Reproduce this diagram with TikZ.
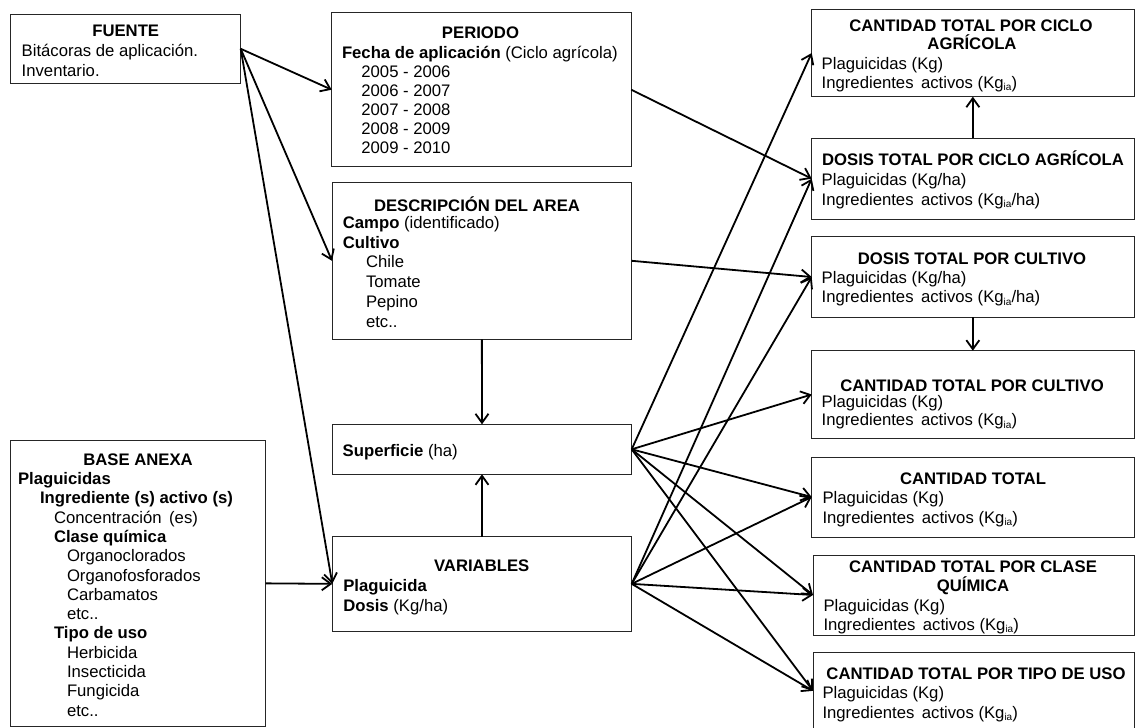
\documentclass[tikz,border=0pt]{standalone}
\usepackage{fontspec}
\setmainfont{Liberation Sans}
\usetikzlibrary{arrows.meta,calc}
\newcommand{\myfs}{\fontsize{16.7}{19.3}\selectfont}
\newcommand{\ia}{\raisebox{-2.5pt}{\fontsize{10}{10}\selectfont ia}}
\newcommand{\wgap}{\hspace{7.5pt}}
\newcommand{\mybox}[5]{\node[boxst, minimum width={#4pt-#2pt}, minimum height={#5pt-#3pt}] (#1) at ({(#2+#4)/2},{(#3+#5)/2}) {};}
\newcommand{\tlin}[4]{\node[txtst] (#1) at (#2,#3) {#4};}
\newcommand{\tctr}[4]{\node[ttlst] (#1) at (#2,#3) {#4};}
\begin{document}
\begin{tikzpicture}[x=1pt,y=-1pt,
  boxst/.style={draw=black!85, line width=1pt, inner sep=0pt, outer sep=0pt},
  txtst/.style={anchor=base west, inner sep=0pt, outer sep=0pt, font=\myfs},
  ttlst/.style={anchor=base, inner sep=0pt, outer sep=0pt, font=\myfs\bfseries},
  arr/.style={line width=1.8pt, -{Straight Barb[length=9pt,width=13pt]}}]
\useasboundingbox (0,0) rectangle (1135,728);
\fill[white] (0,0) rectangle (1135,728);

% FUENTE
\mybox{fuente}{10.7}{14.3}{240.7}{83.3}
\tctr{fuenteT}{125.7}{36.7}{FUENTE}
\tlin{fuente1}{21.7}{56.7}{Bitácoras de aplicación.}
\tlin{fuente2}{21.7}{76.5}{Inventario.}

% PERIODO
\mybox{periodo}{331.7}{12.7}{631.2}{166.7}
\tctr{periodoT}{480.5}{38}{PERIODO}
\tlin{p0}{342}{58}{\textbf{Fecha de aplicación} (Ciclo agrícola)}
\tlin{p1}{361.4}{77}{2005 - 2006}
\tlin{p2}{361.4}{96}{2006 - 2007}
\tlin{p3}{361.4}{115.2}{2007 - 2008}
\tlin{p4}{361.4}{134.3}{2008 - 2009}
\tlin{p5}{361.4}{153.4}{2009 - 2010}

% DESCRIPCION
\mybox{desc}{332}{182.3}{631.7}{339.3}
\tctr{descT}{477}{211}{DESCRIPCIÓN DEL AREA}
\tlin{d1}{342.9}{228.3}{\textbf{Campo} (identificado)}
\tlin{d2}{342.9}{248}{\textbf{Cultivo}}
\tlin{d3}{366}{267.5}{Chile}
\tlin{d4}{366}{287.3}{Tomate}
\tlin{d5}{366}{307}{Pepino}
\tlin{d6}{366}{327}{etc..}

% SUPERFICIE
\mybox{sup}{332.3}{424.3}{631.7}{474.3}
\tlin{s1}{342.7}{456.7}{\textbf{Superficie} (ha)}

% VARIABLES
\mybox{var}{332.3}{536.7}{631.7}{631}
\tctr{varT}{481.7}{571.7}{VARIABLES}
\tlin{v1}{343.3}{591}{\textbf{Plaguicida}}
\tlin{v2}{343.3}{611.5}{\textbf{Dosis} (Kg/ha)}

% BASE ANEXA
\mybox{base}{10.7}{440.7}{265.7}{726}
\tctr{baseT}{138}{465.5}{BASE ANEXA}
\tlin{b1}{18}{484.5}{\textbf{Plaguicidas}}
\tlin{b2}{40}{503.8}{\textbf{Ingrediente (s) activo (s)}}
\tlin{b3}{54}{523.1}{Concentración\wgap(es)}
\tlin{b4}{54}{542.4}{\textbf{Clase química}}
\tlin{b5}{67}{561.7}{Organoclorados}
\tlin{b6}{67}{581}{Organofosforados}
\tlin{b7}{67}{600.3}{Carbamatos}
\tlin{b8}{67}{619.6}{etc..}
\tlin{b9}{54}{638.9}{\textbf{Tipo de uso}}
\tlin{b10}{67}{658.2}{Herbicida}
\tlin{b11}{67}{677.5}{Insecticida}
\tlin{b12}{67}{696.8}{Fungicida}
\tlin{b13}{67}{716.1}{etc..}

% CANTIDAD TOTAL POR CICLO AGRICOLA
\mybox{ctpca}{811.7}{9.3}{1134}{96.7}
\tctr{ctpcaT1}{971}{31}{CANTIDAD TOTAL POR CICLO}
\tctr{ctpcaT2}{972}{49.5}{AGRÍCOLA}
\tlin{ctpca1}{821.7}{69}{Plaguicidas (Kg)}
\tlin{ctpca2}{821.7}{88}{Ingredientes\wgap activos (Kg\ia)}

% DOSIS TOTAL POR CICLO AGRICOLA
\mybox{dtpca}{811.7}{138.3}{1134}{219}
\tctr{dtpcaT}{973}{165.3}{DOSIS TOTAL POR CICLO AGRÍCOLA}
\tlin{dtpca1}{821.7}{185}{Plaguicidas (Kg/ha)}
\tlin{dtpca2}{821.7}{205}{Ingredientes\wgap activos (Kg\ia/ha)}

% DOSIS TOTAL POR CULTIVO
\mybox{dtpc}{811.7}{236.7}{1134}{317.3}
\tctr{dtpcT}{972}{264.3}{DOSIS TOTAL POR CULTIVO}
\tlin{dtpc1}{821.7}{283.3}{Plaguicidas (Kg/ha)}
\tlin{dtpc2}{821.7}{302.7}{Ingredientes\wgap activos (Kg\ia/ha)}

% CANTIDAD TOTAL POR CULTIVO
\mybox{ctpc}{811.7}{350.7}{1134}{438.3}
\tctr{ctpcT}{972}{391}{CANTIDAD TOTAL POR CULTIVO}
\tlin{ctpc1}{821.7}{407}{Plaguicidas (Kg)}
\tlin{ctpc2}{821.7}{425.5}{Ingredientes\wgap activos (Kg\ia)}

% CANTIDAD TOTAL
\mybox{ct}{811.7}{457}{1134}{537}
\tctr{ctT}{973}{484.3}{CANTIDAD TOTAL}
\tlin{ct1}{822.5}{503}{Plaguicidas (Kg)}
\tlin{ct2}{822.5}{523}{Ingredientes\wgap activos (Kg\ia)}

% CANTIDAD TOTAL POR CLASE QUIMICA
\mybox{ctpcq}{813}{555}{1134}{635}
\tctr{ctpcqT1}{973}{572.5}{CANTIDAD TOTAL POR CLASE}
\tctr{ctpcqT2}{973}{591.3}{QUÍMICA}
\tlin{ctpcq1}{823.5}{611}{Plaguicidas (Kg)}
\tlin{ctpcq2}{823.5}{630}{Ingredientes\wgap activos (Kg\ia)}

% CANTIDAD TOTAL POR TIPO DE USO
\mybox{ctptu}{813}{652.7}{1134}{729}
\tctr{ctptuT}{976}{679}{CANTIDAD TOTAL POR TIPO DE USO}
\tlin{ctptu1}{822.5}{698}{Plaguicidas (Kg)}
\tlin{ctptu2}{822.5}{718}{Ingredientes\wgap activos (Kg\ia)}

% connectors
\draw[arr] (fuente.east) -- (periodo.west);
\draw[arr] (fuente.east) -- (desc.west);
\draw[arr] (fuente.east) -- (var.west);
\draw[arr] (base.east) -- (var.west);
\draw[arr] (desc.south) -- (sup.north);
\draw[arr] (var.north) -- (sup.south);
\draw[arr] (periodo.east) -- (dtpca.west);
\draw[arr] (desc.east) -- (dtpc.west);
\draw[arr] (dtpca.north) -- (ctpca.south);
\draw[arr] (dtpc.south) -- (ctpc.north);
\foreach \tg in {ctpca,ctpc,ct,ctpcq,ctptu} \draw[arr] (sup.east) -- (\tg.west);
\foreach \tg in {dtpca,dtpc,ct,ctpcq,ctptu} \draw[arr] (var.east) -- (\tg.west);
\end{tikzpicture}
\end{document}
